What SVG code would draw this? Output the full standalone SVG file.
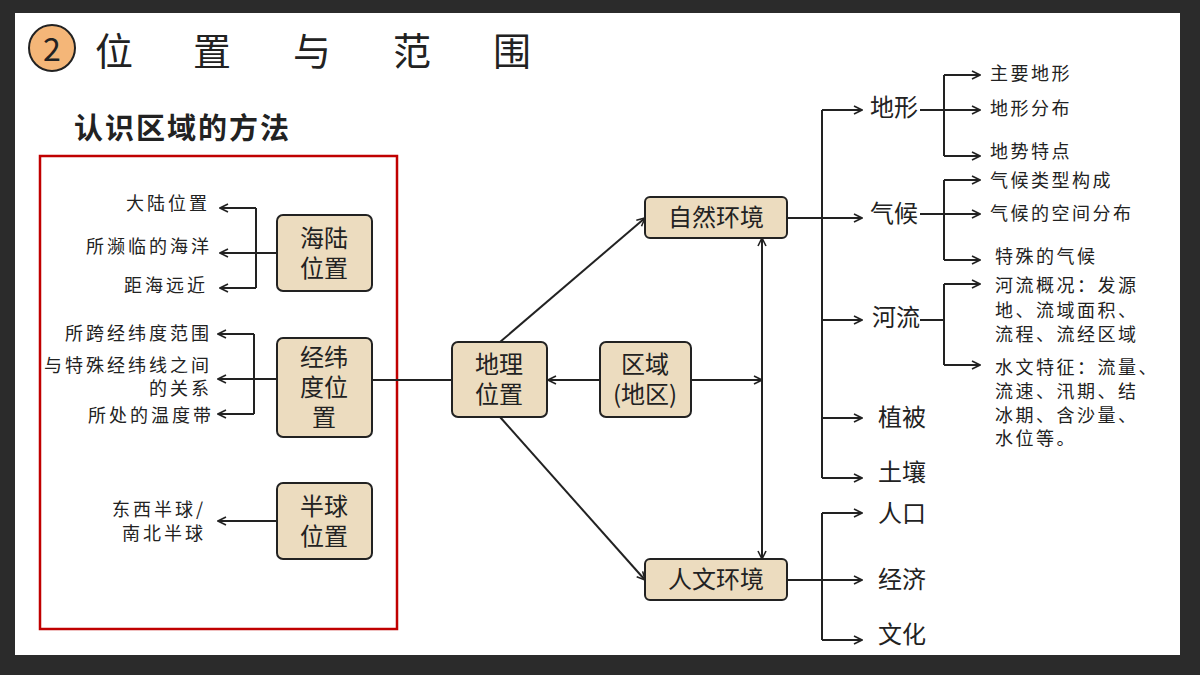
<svg xmlns="http://www.w3.org/2000/svg" width="1200" height="675" viewBox="0 0 1200 675">
<style>
text{font-family:"Noto Sans CJK SC","Noto Sans",sans-serif;fill:#222}
.b{fill:#ecdcbf;stroke:#222;stroke-width:2}
.bt{font-size:24px;text-anchor:middle}
.l{fill:none;stroke:#222;stroke-width:2}
.s{font-size:18px;letter-spacing:2.5px}
.r{font-size:18px;text-anchor:end;letter-spacing:3px}
.m{font-size:24px}
</style>
<defs><marker id="a" viewBox="0 0 10 10" refX="9" refY="5" markerWidth="10" markerHeight="10" markerUnits="userSpaceOnUse" orient="auto-start-reverse"><path d="M1 1L9 5L1 9" fill="none" stroke="#222" stroke-width="1.6"/></marker></defs>
<rect width="1200" height="675" fill="#2b2b2b"/>
<rect x="15" y="13" width="1165" height="642" fill="#fff"/>
<g id="title"><circle cx="52" cy="48" r="23" fill="#f4b678" stroke="#222" stroke-width="2"/><text x="52" y="61" font-size="32" text-anchor="middle">2</text>
<text font-size="38" y="65"><tspan x="95">位</tspan><tspan x="193">置</tspan><tspan x="293">与</tspan><tspan x="393">范</tspan><tspan x="493">围</tspan></text></g>
<text x="74" y="139" font-size="29" font-weight="bold" letter-spacing="2">认识区域的方法</text>
<rect x="40" y="156" width="357" height="473" fill="none" stroke="#c00000" stroke-width="2.5"/>
<g id="conn" class="l" marker-end="url(#a)">
<path d="M256 208V288M256 253H277" marker-end="none"/><path d="M256 208H220"/><path d="M256 253H220"/><path d="M256 288H220"/>
<path d="M254 334V414M254 379H277" marker-end="none"/><path d="M254 334H218"/><path d="M254 379H218"/><path d="M254 414H218"/>
<path d="M277 521H218"/><path d="M372 380H452" marker-end="none"/>
<path d="M500 342L645 218"/><path d="M500 417L645 580"/>
<path d="M600 380H548"/><path d="M691 380H762"/>
<path d="M762 238V559" marker-start="url(#a)"/>
<path d="M787 218H822M822 110V478M787 580H822M822 513V640" marker-end="none"/>
<path d="M822 110H862"/><path d="M822 218H862"/><path d="M822 320H862"/><path d="M822 418H862"/><path d="M822 478H862"/>
<path d="M822 513H862"/><path d="M822 580H862"/><path d="M822 640H862"/>
<path d="M920 110H944M944 75V156M920 214H944M944 180V260M920 320H944M944 284V365" marker-end="none"/>
<path d="M944 75H980"/><path d="M944 110H980"/><path d="M944 156H980"/>
<path d="M944 180H980"/><path d="M944 214H980"/><path d="M944 260H980"/>
<path d="M944 284H980"/><path d="M944 365H980"/>
</g>
<g id="n1"><rect class="b" x="277" y="215" width="95" height="76" rx="6"/><text class="bt"><tspan x="324" y="247">海陆</tspan><tspan x="324" y="277">位置</tspan></text></g>
<g id="n2"><rect class="b" x="277" y="338" width="95" height="99" rx="6"/><text class="bt"><tspan x="324" y="366">经纬</tspan><tspan x="324" y="396">度位</tspan><tspan x="324" y="426">置</tspan></text></g>
<g id="n3"><rect class="b" x="277" y="483" width="95" height="76" rx="6"/><text class="bt"><tspan x="324" y="515">半球</tspan><tspan x="324" y="545">位置</tspan></text></g>
<g id="n4"><rect class="b" x="452" y="342" width="95" height="75" rx="6"/><text class="bt"><tspan x="499" y="373">地理</tspan><tspan x="499" y="403">位置</tspan></text></g>
<g id="n5"><rect class="b" x="600" y="342" width="91" height="75" rx="6"/><text class="bt"><tspan x="645" y="373">区域</tspan><tspan x="645" y="403">(地区)</tspan></text></g>
<g id="n6"><rect class="b" x="645" y="197" width="142" height="41" rx="5"/><text class="bt" x="716" y="226">自然环境</text></g>
<g id="n7"><rect class="b" x="645" y="559" width="142" height="41" rx="5"/><text class="bt" x="716" y="588">人文环境</text></g>
<g id="lt">
<text class="r" x="210" y="210">大陆位置</text><text class="r" x="212" y="253">所濒临的海洋</text><text class="r" x="208" y="292">距海远近</text>
<text class="r" x="212" y="340">所跨经纬度范围</text><text class="r"><tspan x="212" y="372">与特殊经纬线之间</tspan><tspan x="212" y="395">的关系</tspan></text><text class="r" x="214" y="422">所处的温度带</text>
<text class="r"><tspan x="206" y="516">东西半球/</tspan><tspan x="206" y="540">南北半球</tspan></text>
</g>
<g id="rt">
<text class="m" x="870" y="116">地形</text><text class="m" x="870" y="222">气候</text><text class="m" x="872" y="326">河流</text><text class="m" x="878" y="426">植被</text><text class="m" x="878" y="481">土壤</text>
<text class="m" x="878" y="522">人口</text><text class="m" x="878" y="588">经济</text><text class="m" x="878" y="643">文化</text>
<text class="s" x="990" y="80">主要地形</text><text class="s" x="990" y="115">地形分布</text><text class="s" x="990" y="158">地势特点</text>
<text class="s" x="990" y="187">气候类型构成</text><text class="s" x="990" y="220">气候的空间分布</text><text class="s" x="995" y="263">特殊的气候</text>
<text class="s"><tspan x="995" y="292">河流概况：发源</tspan><tspan x="995" y="317">地、流域面积、</tspan><tspan x="995" y="341">流程、流经区域</tspan></text>
<text class="s"><tspan x="995" y="374">水文特征：流量、</tspan><tspan x="995" y="398">流速、汛期、结</tspan><tspan x="995" y="422">冰期、含沙量、</tspan><tspan x="995" y="445">水位等。</tspan></text>
</g>
</svg>
